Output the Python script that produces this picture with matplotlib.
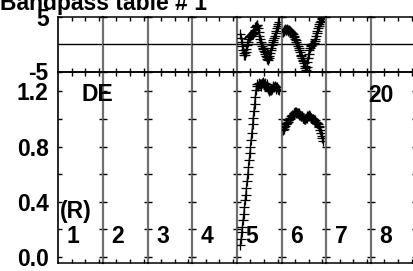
import numpy as np
import matplotlib
matplotlib.use("Agg")
import matplotlib.pyplot as plt

plt.rcParams['font.family'] = ['Liberation Sans', 'DejaVu Sans']
plt.rcParams['font.weight'] = 'bold'

title = "Bandpass table # 1"
window_labels = ["1", "2", "3", "4", "5", "6", "7", "8"]

# channels with data (64 channels per window)
chan_w5 = np.arange(5, 63)
chan_w6 = np.arange(2, 62)

amp_w5 = [0.09, 0.13, 0.18, 0.22, 0.27, 0.31, 0.36, 0.41, 0.45, 0.50,
          0.55, 0.60, 0.65, 0.70, 0.75, 0.80, 0.85, 0.90, 0.96, 1.01,
          1.06, 1.11, 1.16, 1.21, 1.24, 1.25, 1.24, 1.25, 1.26, 1.25,
          1.24, 1.25, 1.26, 1.27, 1.26, 1.25, 1.26, 1.25, 1.24, 1.25,
          1.23, 1.22, 1.21, 1.20, 1.21, 1.22, 1.21, 1.22, 1.23, 1.24,
          1.23, 1.24, 1.23, 1.22, 1.23, 1.22, 1.22, 1.21]
amp_w6 = [0.92, 0.93, 0.94, 0.95, 0.96, 0.97, 0.97, 0.98, 0.99, 1.00,
          1.00, 1.01, 1.02, 1.02, 1.03, 1.03, 1.04, 1.04, 1.05, 1.04,
          1.05, 1.04, 1.04, 1.03, 1.04, 1.03, 1.02, 1.02, 1.02, 1.01,
          1.01, 1.00, 1.00, 1.00, 1.01, 1.01, 1.02, 1.02, 1.03, 1.02,
          1.02, 1.01, 1.01, 1.00, 1.00, 1.00, 0.99, 0.99, 0.98, 0.98,
          0.97, 0.97, 0.96, 0.95, 0.94, 0.92, 0.90, 0.88, 0.86, 0.84]

ph_w5 = [1.8, 1.2, 0.5, -0.3, -1.0, -1.6, -2.0, -1.9, -1.4, -0.8,
         -0.2, 0.4, 0.9, 1.3, 1.5, 1.6, 1.7, 1.8, 1.9, 2.0,
         2.3, 2.7, 3.1, 3.4, 3.6, 3.5, 3.0, 2.3, 1.6, 1.0,
         0.5, 0.1, -0.3, -0.6, -0.9, -1.2, -1.5, -1.8, -2.1, -2.4,
         -2.7, -2.9, -2.6, -2.1, -1.6, -1.1, -0.6, -0.1, 0.4, 0.8,
         1.1, 1.5, 2.0, 2.5, 3.0, 3.4, 3.8, 4.1]
ph_w6 = [2.2, 2.5, 2.7, 2.8, 2.7, 2.6, 2.8, 2.7, 2.5, 2.6,
         2.4, 2.2, 2.3, 2.0, 1.9, 1.8, 1.6, 1.3, 1.0, 0.7,
         0.4, 0.1, -0.3, -0.7, -1.1, -1.5, -1.9, -2.2, -2.5, -2.8,
         -3.1, -3.5, -3.9, -4.3, -4.7, -4.2, -3.3, -2.5, -1.7, -1.1,
         -0.6, -0.3, -0.1, 0.0, 0.1, 0.0, 0.3, 0.6, 1.0, 1.5,
         2.0, 2.5, 2.9, 3.3, 3.7, 4.0, 4.3, 4.6, 4.8, 5.0]

phase_data = {4: (chan_w5, ph_w5), 5: (chan_w6, ph_w6)}
amp_data = {4: (chan_w5, amp_w5), 5: (chan_w6, amp_w6)}

amp_ticks = [0.0, 0.2, 0.4, 0.6, 0.8, 1.0, 1.2]
amp_ticklabels = ["0.0", "", "0.4", "", "0.8", "", "1.2"]

W, H = 414, 271
fig = plt.figure(figsize=(W / 100, H / 100), dpi=100)

x0, win_w = 58.3, 44.66
top_y0, split_y, bot_y = 17, 71.5, 263
fs = 16.5
sep_color = '#707070'

for row in range(2):
    for i in range(8):
        if row == 0:
            rect = [(x0 + i * win_w) / W, 1 - split_y / H, win_w / W, (split_y - top_y0) / H]
        else:
            rect = [(x0 + i * win_w) / W, 1 - bot_y / H, win_w / W, (bot_y - split_y) / H]
        ax = fig.add_axes(rect)
        ax.set_xlim(0, 66)
        ax.set_xticks([20, 40, 60])
        ax.set_xticklabels([])
        ax.tick_params(axis='x', which='both', direction='in', top=True, bottom=True,
                       length=3.2, width=1)
        ax.tick_params(axis='y', which='both', direction='in', left=True, right=True,
                       length=3, width=1, labelsize=fs, pad=7)
        for s in ['top', 'bottom']:
            ax.spines[s].set_linewidth(1.1)
        ax.spines['left'].set_linewidth(1.2)
        if i > 0:
            ax.spines['left'].set_visible(False)
        ax.spines['right'].set_color(sep_color)
        ax.spines['right'].set_linewidth(1.6)
        ax.patch.set_alpha(0)

        if row == 0:
            ax.set_ylim(-5, 5)
            ax.set_yticks([-5, 5])
            ax.axhline(0, color='black', lw=1)
            if i in phase_data:
                ch, ph = phase_data[i]
                ax.plot(ch, ph, color='black', lw=0.8, marker='+', ms=7, mew=0.9)
        else:
            ax.set_ylim(-0.0435, 1.344)
            ax.set_yticks(amp_ticks)
            if i in amp_data:
                ch, amp = amp_data[i]
                ax.plot(ch, amp, color='black', lw=0.8, marker='+', ms=7, mew=0.9)
            ax.text(22, 0.152, window_labels[i], ha='center', va='center',
                    fontsize=fs, fontweight='bold')

        if i == 0:
            if row == 0:
                ax.set_yticklabels(["-5", "5"])
            else:
                ax.set_yticklabels(amp_ticklabels)
                ax.text(26, 0.33, "(R)", ha='center', va='center', fontsize=fs, fontweight='bold')
                ax.text(57.5, 1.18, "DE", ha='center', va='center', fontsize=fs,
                        fontweight='bold', clip_on=False)
        else:
            ax.set_yticklabels([])
        if row == 1 and i == 7:
            ax.text(14.8, 1.17, "20", ha='center', va='center', fontsize=fs, fontweight='bold')

fig.text(0, 1 - 10 / H, title, ha='left', va='baseline', fontsize=fs, fontweight='bold')

fig.savefig("out.png", dpi=100)
